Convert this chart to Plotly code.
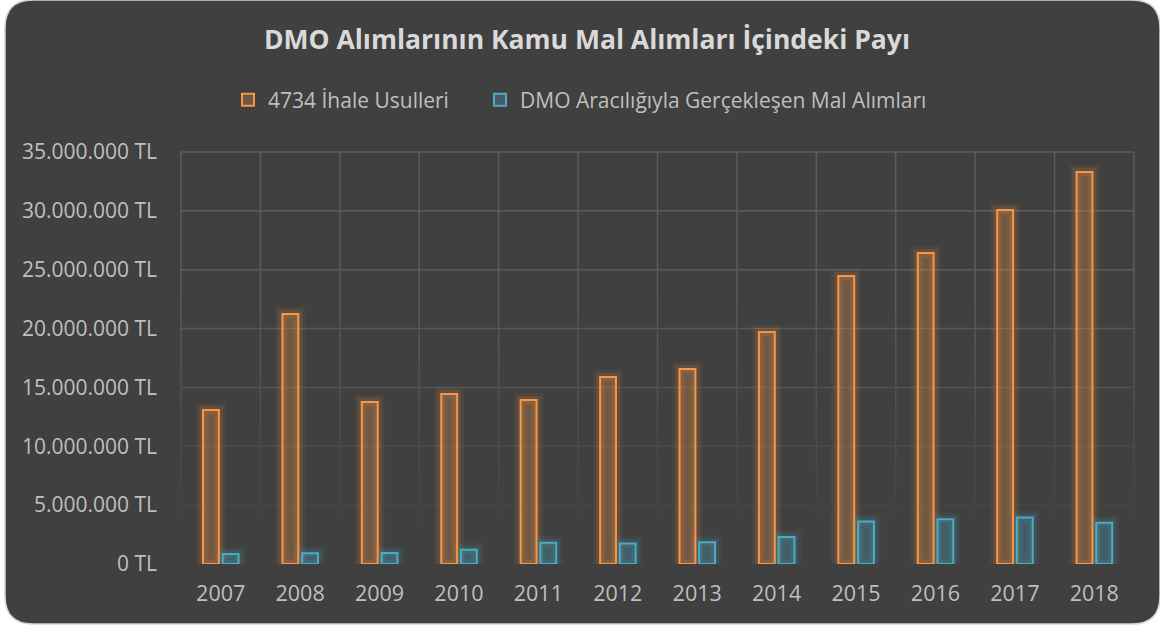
import plotly.graph_objects as go

years = ["2007", "2008", "2009", "2010", "2011", "2012", "2013", "2014", "2015", "2016", "2017", "2018"]
ihale = [13.08e6, 21.24e6, 13.76e6, 14.44e6, 13.93e6, 15.88e6, 16.56e6, 19.70e6, 24.46e6, 26.42e6, 30.07e6, 33.30e6]
dmo = [0.85e6, 0.92e6, 0.93e6, 1.20e6, 1.80e6, 1.75e6, 1.85e6, 2.30e6, 3.60e6, 3.80e6, 3.96e6, 3.50e6]
tick_vals = [0, 5e6, 10e6, 15e6, 20e6, 25e6, 30e6, 35e6]
tick_text = ["0 TL", "5.000.000 TL", "10.000.000 TL", "15.000.000 TL", "20.000.000 TL",
             "25.000.000 TL", "30.000.000 TL", "35.000.000 TL"]
name_a = "4734 İhale Usulleri"
name_b = "DMO Aracılığıyla Gerçekleşen Mal Alımları"

W, H = 1160, 628
L, R, T, B = 181, 1134, 152, 564   # pixel positions of the grid frame
PAD = 2
YMAX = tick_vals[-1]
cat_px = (R - L) / len(years)
yr_top = YMAX * (B - (T - PAD)) / (B - T)
xr_pad = PAD / cat_px

ORANGE = "#F79646"
BLUE = "#4BACC6"
BG = "#404040"

fig = go.Figure()
# soft glow layers
for vals, rgb, off in [(ihale, "247,150,70", -0.223), (dmo, "75,172,198", 0.025)]:
    for lw, a in [(14, 0.07), (8, 0.13)]:
        fig.add_trace(go.Bar(x=years, y=vals, offset=off, width=0.2, showlegend=False, hoverinfo="skip",
                             marker=dict(color="rgba(0,0,0,0)", line=dict(color=f"rgba({rgb},{a})", width=lw))))
fig.add_trace(go.Bar(x=years, y=ihale, name=name_a, offset=-0.223, width=0.2, legend="legend",
                     marker=dict(color="rgba(247,150,70,0.25)", line=dict(color=ORANGE, width=2))))
fig.add_trace(go.Bar(x=years, y=dmo, name=name_b, offset=0.025, width=0.2, legend="legend2",
                     marker=dict(color="rgba(75,172,198,0.25)", line=dict(color=BLUE, width=2))))

pl, pr, pt, pb = L - PAD, R + PAD, T - PAD, B

def px(x):
    return (x - pl) / (pr - pl)

def py(y):
    return (pb - y) / (pb - pt)

def val_of_px(y):
    return (B - y) / (B - T) * YMAX

def px_of_val(v):
    return B - v / YMAX * (B - T)

def grid_color(ypix):
    # grid fades out toward the bottom of the plot
    a = min(1.0, max(0.0, (540 - ypix) / (540 - 290)))
    c = round(64 + (92 - 64) * a)
    return f"rgb({c},{c},{c})"

x0, x1, y0, y1, r = 5, 1160, 0, 624, 28
path = (f"M {px(x0 + r)},{py(y0)} L {px(x1 - r)},{py(y0)} Q {px(x1)},{py(y0)} {px(x1)},{py(y0 + r)} "
        f"L {px(x1)},{py(y1 - r)} Q {px(x1)},{py(y1)} {px(x1 - r)},{py(y1)} "
        f"L {px(x0 + r)},{py(y1)} Q {px(x0)},{py(y1)} {px(x0)},{py(y1 - r)} "
        f"L {px(x0)},{py(y0 + r)} Q {px(x0)},{py(y0)} {px(x0 + r)},{py(y0)} Z")

shapes = [dict(type="path", path=path, xref="paper", yref="paper", layer="below",
               fillcolor=BG, line=dict(color="#d4d4d4", width=1.5))]

# horizontal grid lines at the y ticks
for v in tick_vals:
    shapes.append(dict(type="line", xref="x", yref="y", x0=-0.5, x1=len(years) - 0.5, y0=v, y1=v,
                       layer="below", line=dict(color=grid_color(px_of_val(v)), width=1.5)))
# vertical grid lines at category boundaries, in short segments so they fade downward
seg_edges = [T] + list(range(290, 541, 10)) + [B]
for i in range(len(years) + 1):
    xb = i - 0.5
    for s0, s1 in zip(seg_edges[:-1], seg_edges[1:]):
        col = grid_color((s0 + s1) / 2)
        if col == "rgb(64,64,64)":
            continue
        shapes.append(dict(type="line", xref="x", yref="y", x0=xb, x1=xb,
                           y0=val_of_px(s0), y1=val_of_px(s1), layer="below",
                           line=dict(color=col, width=1.5)))

legend_common = dict(orientation="h", xref="container", yref="container", y=1 - 100 / H,
                     xanchor="left", yanchor="middle", font=dict(size=21, color="#bfbfbf"),
                     bgcolor="rgba(0,0,0,0)", itemwidth=30)

fig.update_layout(
    width=W, height=H,
    margin=dict(l=pl, r=W - pr, t=pt, b=H - pb, pad=0),
    paper_bgcolor="#ffffff",
    plot_bgcolor="rgba(0,0,0,0)",
    barmode="overlay",
    font=dict(family="Open Sans", color="#bfbfbf", size=21),
    title=dict(text="<b>DMO Alımlarının Kamu Mal Alımları İçindeki Payı</b>",
               x=0.506, xref="container", y=1 - 40 / H, yref="container",
               xanchor="center", yanchor="middle",
               font=dict(family="Open Sans", size=26.5, color="#d9d9d9")),
    legend=dict(legend_common, x=228 / W),
    legend2=dict(legend_common, x=480 / W),
    shapes=shapes,
    xaxis=dict(type="category", showgrid=False, ticks="", showline=False, zeroline=False,
               tickfont=dict(size=21.5, color="#bfbfbf"),
               ticklabelstandoff=14, range=[-0.5 - xr_pad, len(years) - 0.5 + xr_pad]),
    yaxis=dict(range=[0, yr_top], tickvals=tick_vals, ticktext=tick_text, showgrid=False,
               zeroline=False, showline=False, ticks="",
               tickfont=dict(size=21, color="#bfbfbf"), ticklabelstandoff=21),
)

fig.write_html("out.html", config={"displayModeBar": False},
               post_script="document.body.style.margin='0';document.body.style.overflow='hidden';")
